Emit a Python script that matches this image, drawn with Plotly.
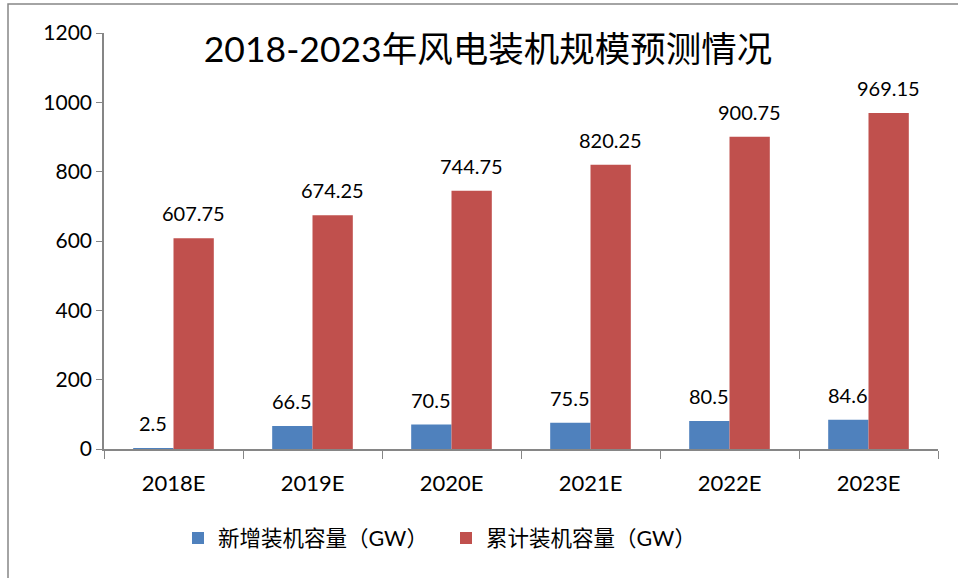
import plotly.graph_objects as go

categories = ["2018E", "2019E", "2020E", "2021E", "2022E", "2023E"]
new_capacity = [2.5, 66.5, 70.5, 75.5, 80.5, 84.6]
total_capacity = [607.75, 674.25, 744.75, 820.25, 900.75, 969.15]
series_names = ["新增装机容量（GW）", "累计装机容量（GW）"]
title_text = "2018-2023年风电装机规模预测情况"

FONT = "Lato, 'Noto Sans CJK SC', sans-serif"
BLUE = "#4F81BD"
RED = "#C0504D"

fig = go.Figure()
fig.add_trace(go.Bar(x=categories, y=new_capacity, name=series_names[0],
                     marker=dict(color=BLUE, line=dict(width=0))))
fig.add_trace(go.Bar(x=categories, y=total_capacity, name=series_names[1],
                     marker=dict(color=RED, line=dict(width=0))))

W, H = 958, 578
ml, mr, mt, mb = 104, 20, 33, 129
plot_w = W - ml - mr
plot_h = H - mt - mb
cat_w = plot_w / len(categories)
bargap = 0.42
bar_w = cat_w * (1 - bargap) / 2

ann = []
for i, c in enumerate(categories):
    ann.append(dict(x=c, y=new_capacity[i], xref="x", yref="y", text=f"{new_capacity[i]:g}",
                    showarrow=False, yanchor="bottom", yshift=11, xshift=-bar_w / 2,
                    font=dict(size=20, color="black", family=FONT)))
    ann.append(dict(x=c, y=total_capacity[i], xref="x", yref="y", text=f"{total_capacity[i]:g}",
                    showarrow=False, yanchor="bottom", yshift=11, xshift=bar_w / 2,
                    font=dict(size=20, color="black", family=FONT)))

x_left = -(ml - 8) / plot_w
y_top = 1 + (mt - 4) / plot_h

fig.update_layout(
    width=W, height=H,
    margin=dict(l=ml, r=mr, t=mt, b=mb),
    paper_bgcolor="white", plot_bgcolor="white",
    barmode="group", bargap=bargap, bargroupgap=0,
    font=dict(family=FONT, size=20, color="black"),
    title=dict(text=title_text, x=488 / W, xanchor="center", xref="container",
               y=1 - 50 / H, yanchor="middle", yref="container",
               font=dict(size=35.5, color="black", family=FONT)),
    xaxis=dict(showline=True, linecolor="#868686", linewidth=1.5,
               ticks="outside", tickson="boundaries", ticklen=8, tickcolor="#868686",
               tickfont=dict(size=22), showgrid=False, ticklabelstandoff=14),
    yaxis=dict(range=[0, 1200], dtick=200, showline=True, linecolor="#868686", linewidth=1.5,
               ticks="outside", ticklen=6, tickcolor="#868686", showgrid=False,
               tickfont=dict(size=21), zeroline=False),
    legend=dict(orientation="h", x=(178 - ml) / plot_w, xanchor="left",
                y=-(538 - (H - mb)) / plot_h, yanchor="middle",
                font=dict(size=21.5), itemwidth=30, entrywidth=223, traceorder="normal"),
    annotations=ann,
    shapes=[dict(type="rect", xref="paper", yref="paper", x0=x_left, x1=1 + (mr + 20) / plot_w,
                 y0=-(mb + 20) / plot_h, y1=y_top,
                 line=dict(color="#868686", width=1.5), fillcolor="rgba(0,0,0,0)", layer="above")],
)

fig.write_html("out.html", config={"displayModeBar": False},
               post_script="document.body.style.margin='0';document.body.style.overflow='hidden';")
